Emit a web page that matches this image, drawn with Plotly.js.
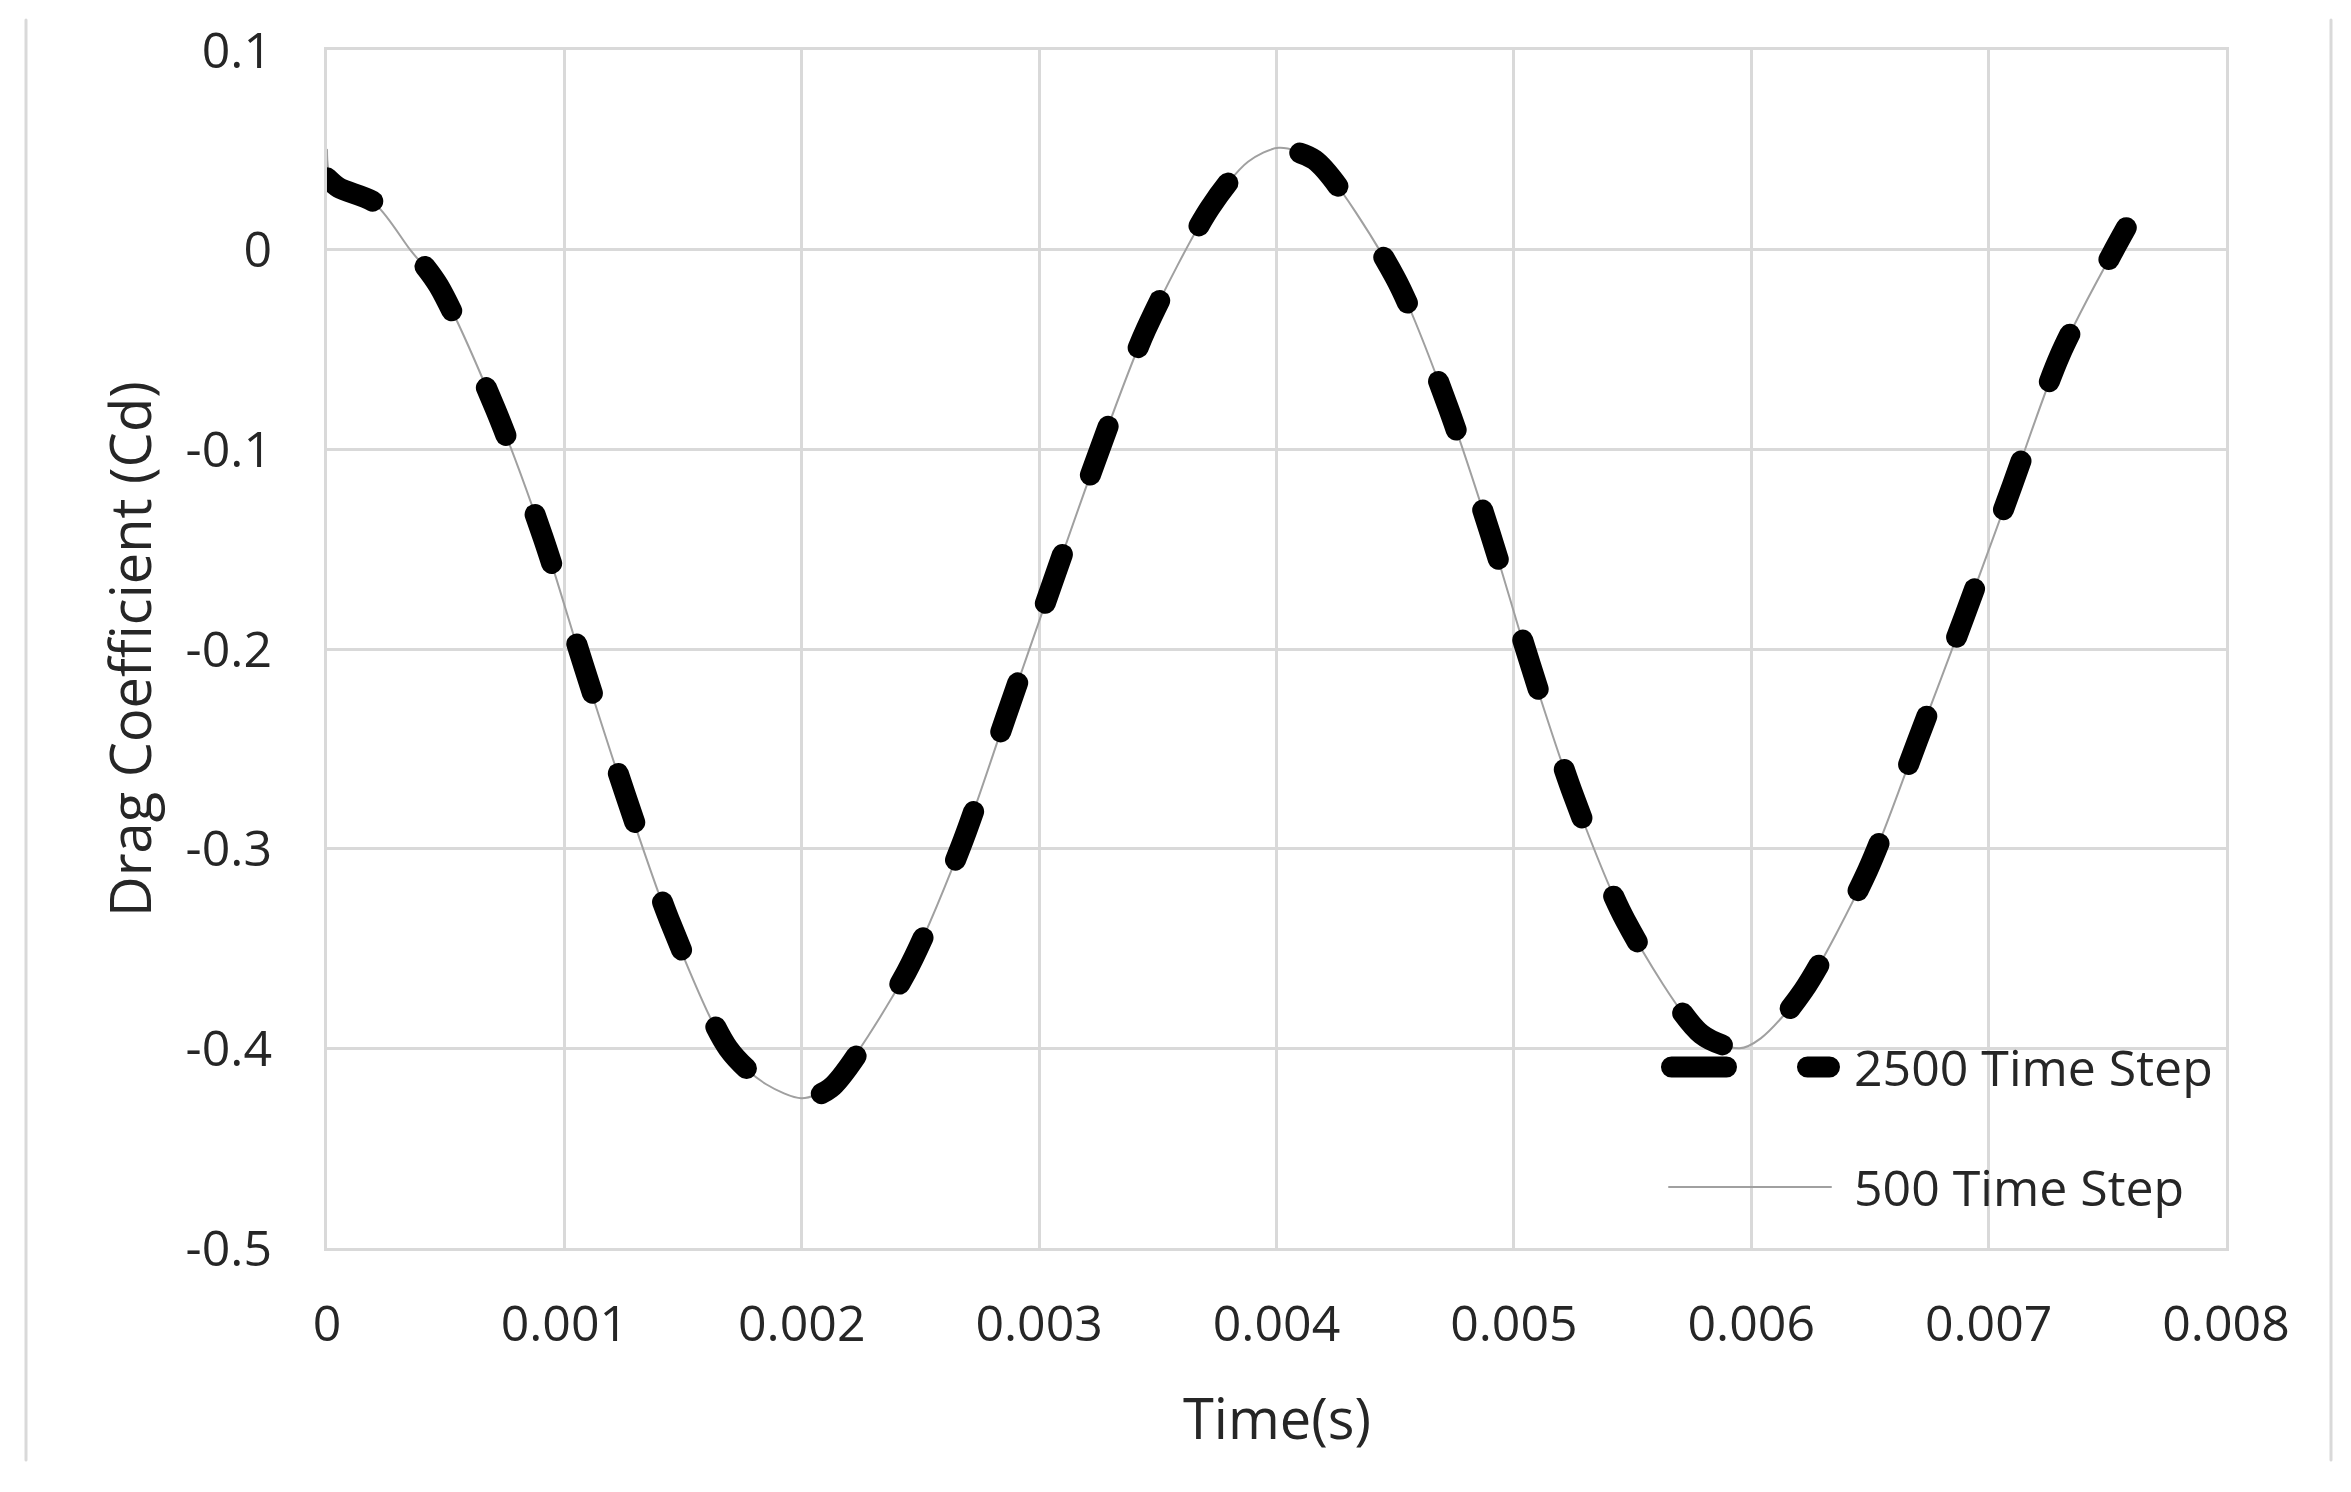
<!DOCTYPE html>
<html>
<head>
<meta charset="utf-8">
<script src="https://cdn.plot.ly/plotly-3.0.1.min.js"></script>
<style>
  html, body { margin: 0; padding: 0; background: #ffffff; }
  #chart { width: 2351px; height: 1492px; }
  .js-line { stroke-linecap: round; stroke-linejoin: round; }
  .shapelayer path { stroke-linecap: round; }
</style>
</head>
<body>
<div id="chart"></div>
<script>
// ---- data ----
const seriesNames = ['2500 Time Step', '500 Time Step'];

const time500 = [0, 0.00002, 0.00021, 0.00035, 0.00047, 0.00071, 0.00091, 0.00108, 0.00126, 0.00145,
  0.00169, 0.00185, 0.00200, 0.00212, 0.00244, 0.00267, 0.00286, 0.00305, 0.00324, 0.00345,
  0.00372, 0.00388, 0.00401, 0.00416, 0.00450, 0.00472, 0.00490, 0.00507, 0.00525, 0.00547,
  0.00579, 0.00595, 0.00604, 0.00622, 0.00649, 0.00670, 0.00690, 0.00710, 0.00730, 0.00752, 0.00759];
const cd500 = [0.050, 0.035, 0.022, 0.000, -0.018, -0.080, -0.144, -0.209, -0.275, -0.339,
  -0.401, -0.418, -0.425, -0.419, -0.362, -0.299, -0.234, -0.169, -0.105, -0.040,
  0.021, 0.044, 0.051, 0.045, -0.014, -0.078, -0.142, -0.209, -0.273, -0.336,
  -0.393, -0.400, -0.395, -0.371, -0.311, -0.246, -0.183, -0.118, -0.053, -0.002, 0.012];

const time2500 = [0, 0.00005, 0.00021, 0.00035, 0.00047, 0.00071, 0.00091, 0.00108, 0.00126, 0.00145,
  0.00169, 0.00185, 0.00200, 0.00212, 0.00244, 0.00267, 0.00286, 0.00305, 0.00324, 0.00345,
  0.00372, 0.00388, 0.00401, 0.00416, 0.00450, 0.00472, 0.00490, 0.00507, 0.00525, 0.00547,
  0.00579, 0.00595, 0.00604, 0.00622, 0.00649, 0.00670, 0.00690, 0.00710, 0.00730, 0.00752, 0.00758];
const cd2500 = [0.036, 0.031, 0.023, 0.001, -0.018, -0.080, -0.144, -0.208, -0.274, -0.338,
  -0.400, -0.418, -0.425, -0.420, -0.362, -0.299, -0.234, -0.169, -0.105, -0.040,
  0.021, 0.044, 0.050, 0.045, -0.014, -0.078, -0.142, -0.208, -0.273, -0.336,
  -0.393, -0.400, -0.396, -0.371, -0.311, -0.246, -0.183, -0.118, -0.053, -0.002, 0.011];

const xTickVals = [0, 0.001, 0.002, 0.003, 0.004, 0.005, 0.006, 0.007, 0.008];
const xTickText = ['0', '0.001', '0.002', '0.003', '0.004', '0.005', '0.006', '0.007', '0.008'];
const yTickVals = [0.1, 0, -0.1, -0.2, -0.3, -0.4, -0.5];
const yTickText = ['0.1', '0', '-0.1', '-0.2', '-0.3', '-0.4', '-0.5'];

const xTitle = 'Time(s)';
const yTitle = 'Drag Coefficient (Cd)';

// ---- styling ----
const FONT = '"Open Sans", "Liberation Sans", sans-serif';
const TEXT = '#262626';
const GRID = '#d9d9d9';
const THICK = 21;
const THIN_COLOR = '#a0a0a0';

const traces = [
  {
    x: time500, y: cd500, name: seriesNames[1], type: 'scatter', mode: 'lines',
    line: { color: THIN_COLOR, width: 2, shape: 'spline', smoothing: 0.8 },
    showlegend: false, hoverinfo: 'skip'
  },
  {
    x: time2500, y: cd2500, name: seriesNames[0], type: 'scatter', mode: 'lines',
    line: { color: '#000000', width: THICK, dash: '52px,84px', shape: 'spline', smoothing: 0.8 },
    showlegend: false, hoverinfo: 'skip'
  }
];

const axisCommon = {
  showgrid: true, gridcolor: GRID, gridwidth: 3,
  zeroline: false,
  showline: true, mirror: true, linecolor: GRID, linewidth: 3,
  ticks: 'outside', tickcolor: 'rgba(0,0,0,0)',
  tickfont: { family: FONT, size: 50, color: TEXT },
  tickmode: 'array', fixedrange: true
};

const layout = {
  width: 2351, height: 1492,
  margin: { l: 327, r: 125, t: 50, b: 244 },
  paper_bgcolor: '#ffffff', plot_bgcolor: '#ffffff',
  showlegend: false,
  xaxis: Object.assign({}, axisCommon, {
    range: [0, 0.008], tickvals: xTickVals, ticktext: xTickText, ticklen: 30
  }),
  yaxis: Object.assign({}, axisCommon, {
    range: [-0.5, 0.1], tickvals: yTickVals, ticktext: yTickText, ticklen: 42
  }),
  annotations: [
    { text: yTitle, xref: 'paper', yref: 'paper', x: -0.1043, y: 0.5, textangle: -90,
      xanchor: 'center', yanchor: 'middle', showarrow: false,
      font: { family: FONT, size: 56, color: TEXT } },
    { text: xTitle, xref: 'paper', yref: 'paper', x: 0.5, y: -0.1411,
      xanchor: 'center', yanchor: 'middle', showarrow: false,
      font: { family: FONT, size: 56, color: TEXT } },
    { text: seriesNames[0], xref: 'paper', yref: 'paper', x: 0.8031, y: 0.1511,
      xanchor: 'left', yanchor: 'middle', showarrow: false,
      font: { family: FONT, size: 50, color: TEXT } },
    { text: seriesNames[1], xref: 'paper', yref: 'paper', x: 0.8031, y: 0.0509,
      xanchor: 'left', yanchor: 'middle', showarrow: false,
      font: { family: FONT, size: 50, color: TEXT } }
  ],
  shapes: [
    // legend samples
    { type: 'line', xref: 'paper', yref: 'paper', x0: 0.7080, x1: 0.7912, y0: 0.1511, y1: 0.1511,
      line: { color: '#000000', width: THICK, dash: '55px,81px' } },
    { type: 'line', xref: 'paper', yref: 'paper', x0: 0.7067, x1: 0.7920, y0: 0.0509, y1: 0.0509,
      line: { color: THIN_COLOR, width: 2 } },
    // chart-area border (vertical edges visible in the reference)
    { type: 'line', xref: 'paper', yref: 'paper', x0: -0.1585, x1: -0.1585, y0: -0.177, y1: 1.025,
      line: { color: GRID, width: 3 } },
    { type: 'line', xref: 'paper', yref: 'paper', x0: 1.0553, x1: 1.0553, y0: -0.177, y1: 1.025,
      line: { color: GRID, width: 3 } }
  ]
};

Plotly.newPlot('chart', traces, layout, { staticPlot: true, displayModeBar: false });
</script>
</body>
</html>
